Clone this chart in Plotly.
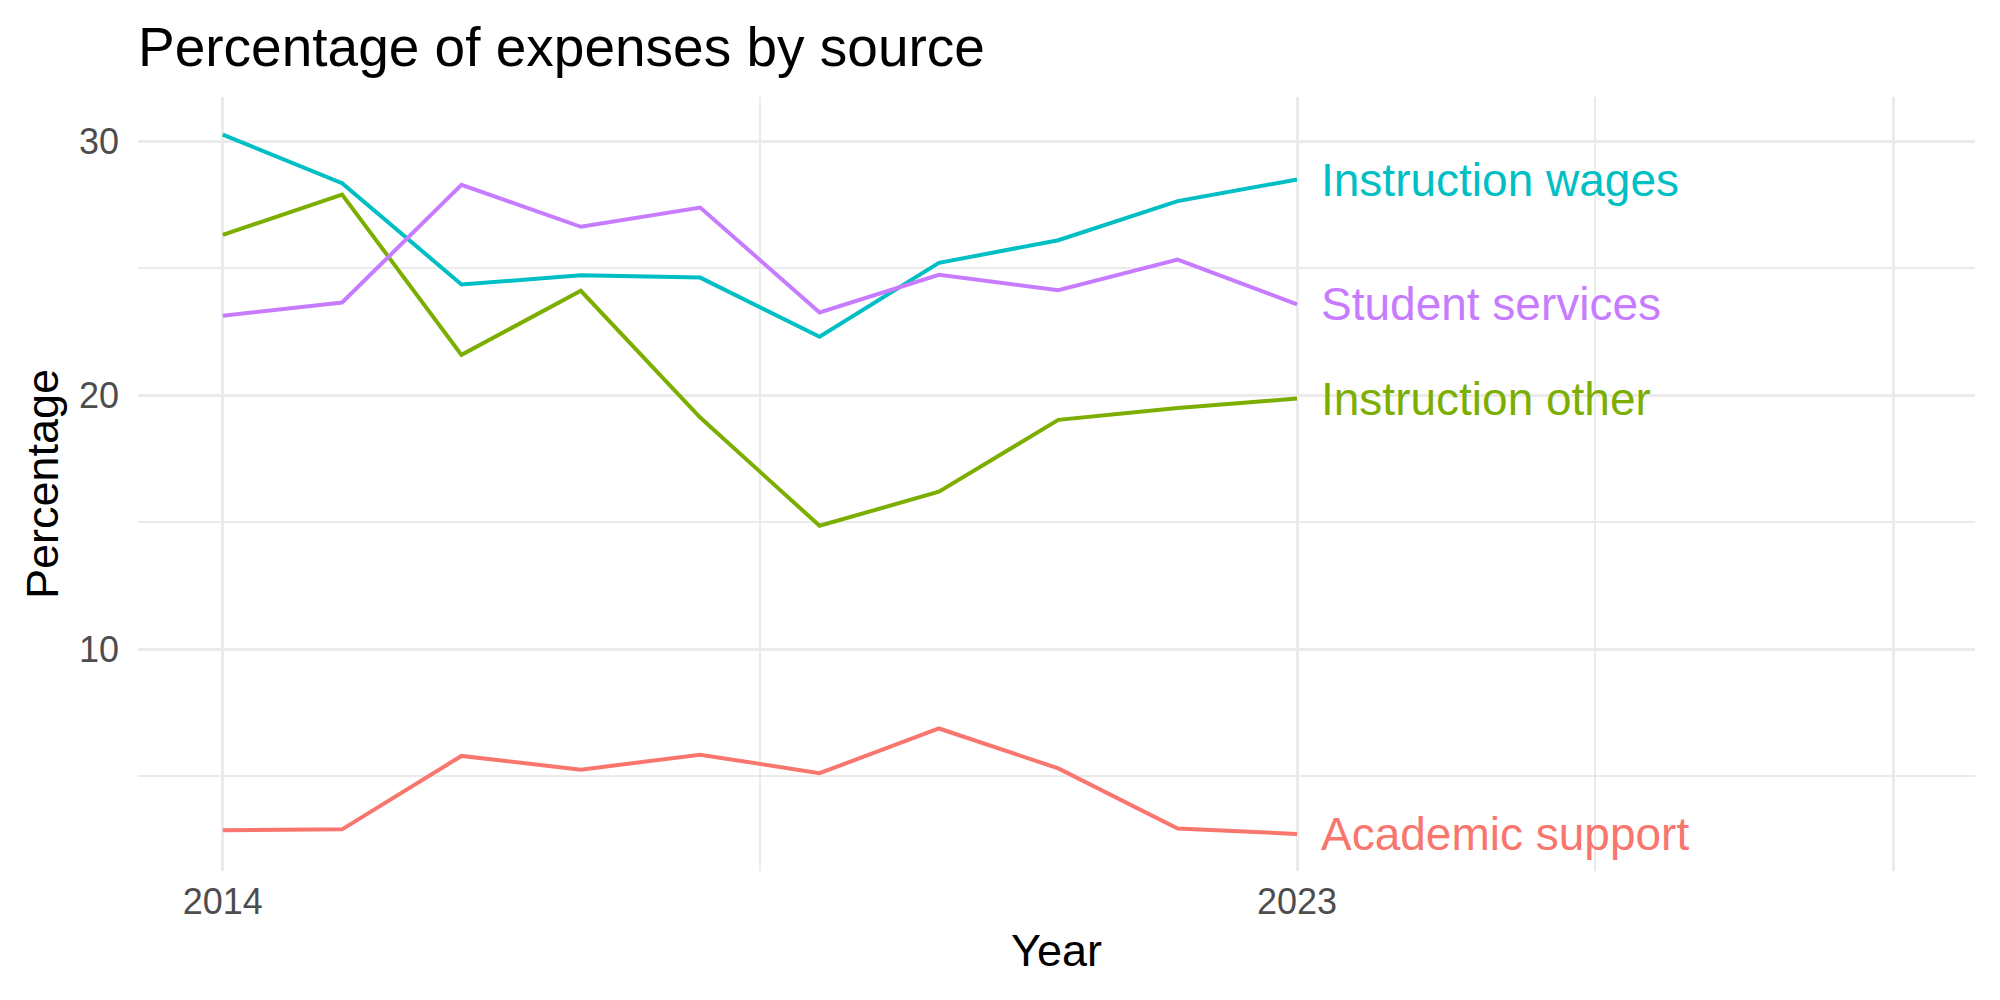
import plotly.graph_objects as go

years = [2014, 2015, 2016, 2017, 2018, 2019, 2020, 2021, 2022, 2023]

academic_support = [2.87, 2.91, 5.80, 5.26, 5.85, 5.12, 6.88, 5.31, 2.94, 2.73]
instruction_other = [26.31, 27.90, 21.59, 24.11, 19.12, 14.86, 16.20, 19.03, 19.50, 19.87]
instruction_wages = [30.26, 28.35, 24.36, 24.72, 24.63, 22.30, 25.21, 26.10, 27.64, 28.49]
student_services = [23.13, 23.65, 28.28, 26.63, 27.39, 23.26, 24.74, 24.13, 25.34, 23.58]

series_names = ["Academic support", "Instruction other", "Instruction wages", "Student services"]
series_values = [academic_support, instruction_other, instruction_wages, student_services]
series_colors = ["#F8766D", "#7CAE00", "#00BFC4", "#C77CFF"]

x_tickvals = [2014, 2023, 2028]
x_ticktext = ["2014", "2023", ""]
x_minor = [2018.5, 2025.5]
y_tickvals = [10, 20, 30]
y_minor = [5, 15, 25]

FONT = "Liberation Sans, Arial, Helvetica, sans-serif"

fig = go.Figure()
for name, vals, col in zip(series_names, series_values, series_colors):
    fig.add_trace(go.Scatter(x=years, y=vals, mode="lines", name=name,
                             line=dict(color=col, width=4), showlegend=False))

annotations = []
for name, vals, col in zip(series_names, series_values, series_colors):
    annotations.append(dict(x=years[-1], y=vals[-1], xref="x", yref="y",
                            text=name, showarrow=False, xanchor="left", yanchor="middle",
                            xshift=22, font=dict(family=FONT, size=46, color=col)))

fig.update_layout(
    width=2000, height=1000,
    margin=dict(l=138, r=25, t=97, b=129),
    paper_bgcolor="white", plot_bgcolor="white",
    font=dict(family=FONT),
    title=dict(text="Percentage of expenses by source", x=138/2000, xanchor="left",
               xref="container", y=0.953, yanchor="middle",
               font=dict(family=FONT, size=55, color="black")),
    annotations=annotations,
    xaxis=dict(range=[2013.29, 2028.68], tickmode="array", tickvals=x_tickvals, ticktext=x_ticktext,
               showgrid=True, gridcolor="#EBEBEB", gridwidth=3.4, zeroline=False, showline=False,
               ticks="", ticklabelstandoff=6, tickfont=dict(family=FONT, size=36, color="#4D4D4D"),
               minor=dict(tickmode="array", tickvals=x_minor, showgrid=True, gridcolor="#EBEBEB", gridwidth=1.7),
               title=dict(text="Year", font=dict(family=FONT, size=45, color="black"), standoff=13)),
    yaxis=dict(range=[1.27, 31.74], tickmode="array", tickvals=y_tickvals,
               showgrid=True, gridcolor="#EBEBEB", gridwidth=3.4, zeroline=False, showline=False,
               ticks="", ticklabelstandoff=18, tickfont=dict(family=FONT, size=36, color="#4D4D4D"),
               minor=dict(tickmode="array", tickvals=y_minor, showgrid=True, gridcolor="#EBEBEB", gridwidth=1.7),
               title=dict(text="Percentage", font=dict(family=FONT, size=45, color="black"), standoff=6)),
)

fig.write_html("out.html")
